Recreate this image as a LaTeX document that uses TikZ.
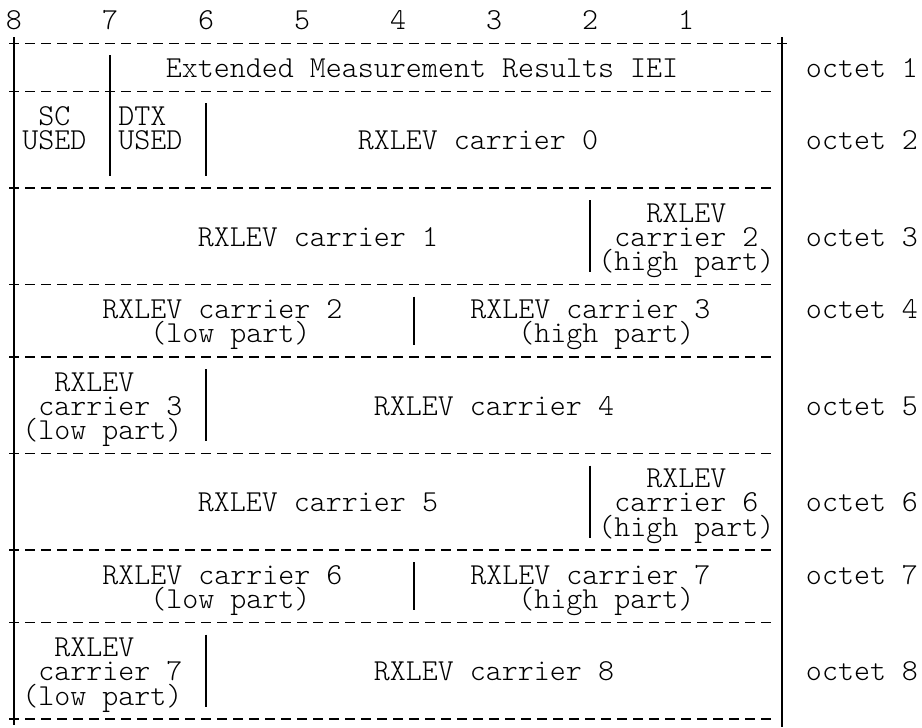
\documentclass[tikz,border=0pt]{standalone}
\usepackage{tikz}

\newlength{\colw}
\setlength{\colw}{8pt}
\newcommand{\sk}[1]{\hspace*{#1\colw}}

\begin{document}
\begin{tikzpicture}[
  x=8pt, y=-12.07pt,
  txt/.style={font=\ttfamily\fontseries{l}\fontsize{15.24}{12.07}\selectfont, inner sep=0pt, anchor=base},
  field/.style={txt, align=left, anchor=base west},
  sep/.style={line width=0.6pt, dash pattern=on 5pt off 3pt},
  bar/.style={line width=0.65pt}
]
\useasboundingbox (-0.875,-0.787) rectangle (56.75,29.33);

% bit numbers
\foreach \b [count=\i from 0] in {8,7,...,1}
  \node[txt] (bit\b) at (6*\i,0.42) {\b};

% separators and borders
\draw[sep] (-0.3125,1) -- (48.3125,1);
\foreach \l in {3,7,11,14,18,22,25,29}
  \draw[sep] (-0.3125,\l) -- (47.3125,\l);
\draw[bar] (0,0.75) -- (0,29.25);
\draw[bar] (48,0.75) -- (48,29.33);
\draw[bar] (6,1.5) -- (6,6.5);
\draw[bar] (12,3.5) -- (12,6.5);
\draw[bar] (36,7.5) -- (36,10.5);
\draw[bar] (25,11.5) -- (25,13.5);
\draw[bar] (12,14.5) -- (12,17.5);
\draw[bar] (36,18.5) -- (36,21.5);
\draw[bar] (25,22.5) -- (25,24.5);
\draw[bar] (12,25.5) -- (12,28.5);

% octets 1 and 2 (multi-line fields sit on their last line)
\node[txt] (iei) at (25.5,2.42) {Extended Measurement Results IEI};
\node[field] (sc) at (0.5,5.42) {\sk{1}SC\\USED};
\node[field] (dtx) at (6.5,5.42) {DTX\\USED};
\node[txt] (rx0) at (29,5.42) {RXLEV carrier 0};

% octets 3 to 8
\node[txt] (rx1) at (19,9.42) {RXLEV carrier 1};
\node[field] (rxh2) at (36.5,10.42) {\sk{3}RXLEV\\\sk{1}carrier 2\\(high part)};
\node[field] (rxl2) at (5.5,13.42) {RXLEV carrier 2\\\sk{3}(low part)};
\node[field] (rxh3) at (28.5,13.42) {RXLEV carrier 3\\\sk{3}(high part)};
\node[field] (rxl3) at (0.5,17.42) {\sk{2}RXLEV\\\sk{1}carrier 3\\(low part)};
\node[txt] (rx4) at (30,16.42) {RXLEV carrier 4};
\node[txt] (rx5) at (19,20.42) {RXLEV carrier 5};
\node[field] (rxh6) at (36.5,21.42) {\sk{3}RXLEV\\\sk{1}carrier 6\\(high part)};
\node[field] (rxl6) at (5.5,24.42) {RXLEV carrier 6\\\sk{3}(low part)};
\node[field] (rxh7) at (28.5,24.42) {RXLEV carrier 7\\\sk{3}(high part)};
\node[field] (rxl7) at (0.5,28.42) {\sk{2}RXLEV\\\sk{1}carrier 7\\(low part)};
\node[txt] (rx8) at (30,27.42) {RXLEV carrier 8};

% octet labels
\foreach \o/\l in {1/2,2/5,3/9,4/12,5/16,6/20,7/23,8/27}
  \node[txt] (oct\o) at (53,\l+0.42) {octet \o};
\end{tikzpicture}
\end{document}
